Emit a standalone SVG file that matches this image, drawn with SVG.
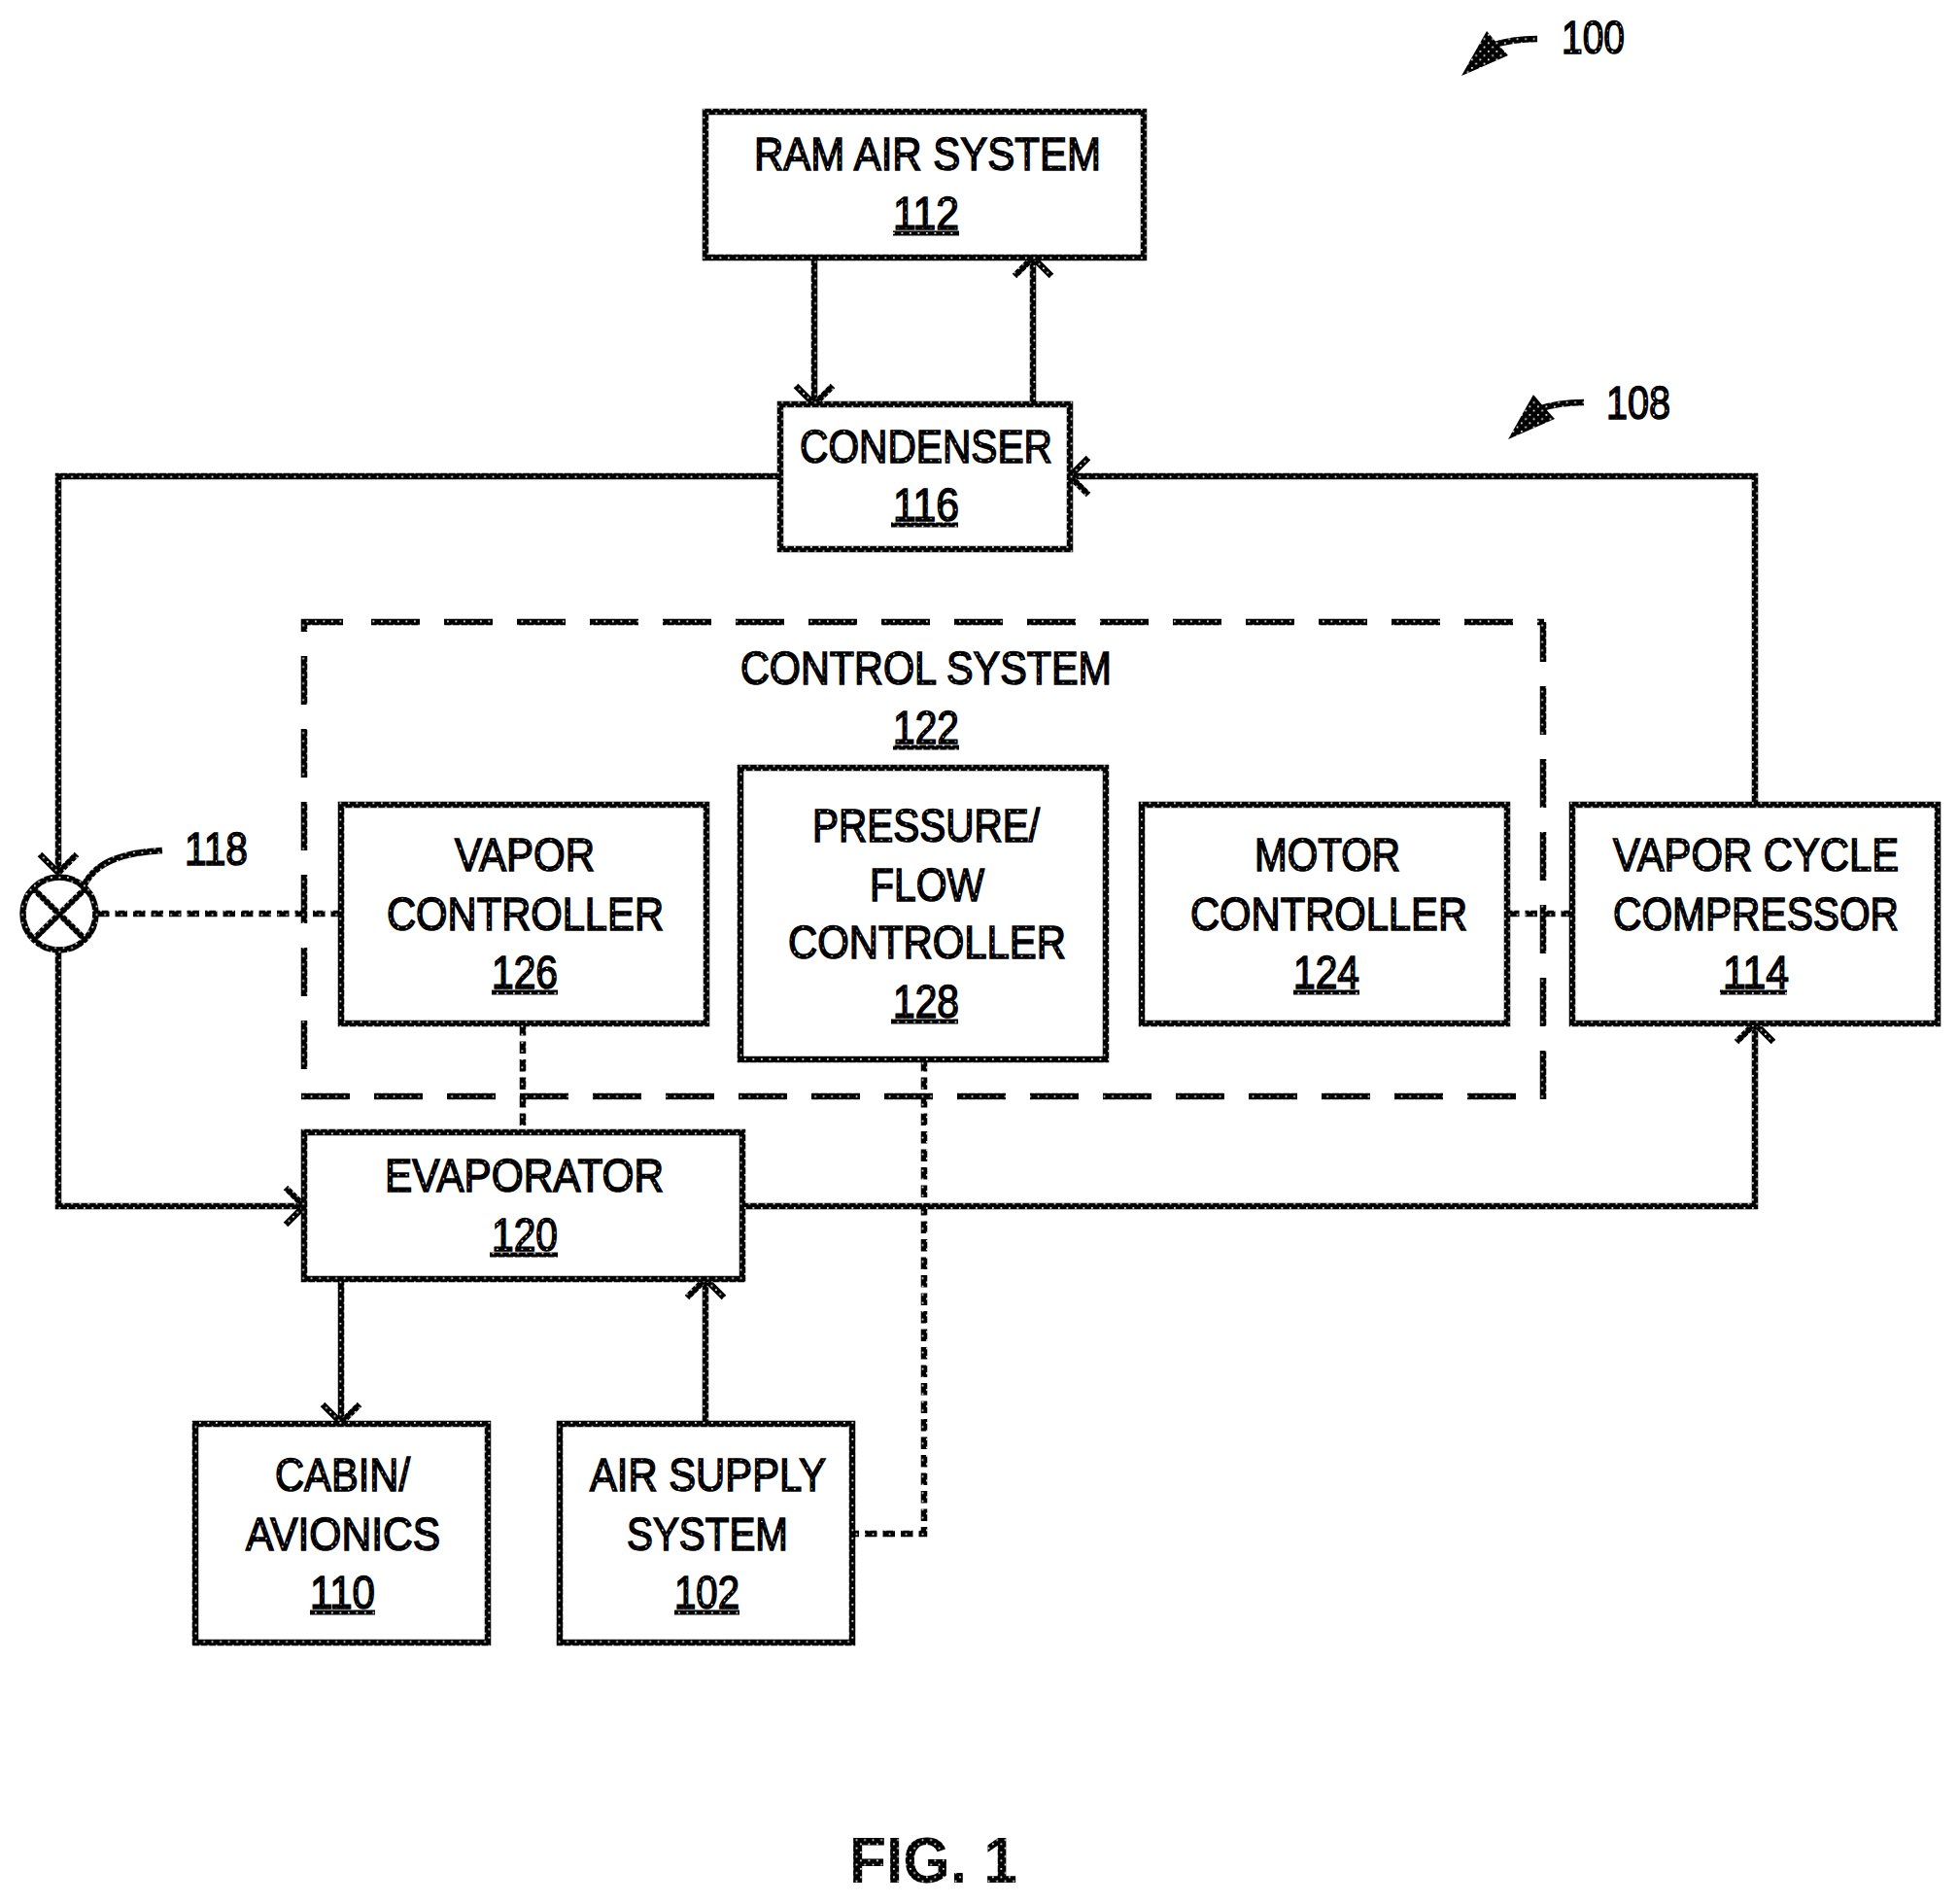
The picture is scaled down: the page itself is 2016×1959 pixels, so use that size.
<svg xmlns="http://www.w3.org/2000/svg" width="2016" height="1959" viewBox="0 0 2016 1959">
<style>
.b{fill:#fff;stroke:url(#ht);stroke-width:6.5}
.c{fill:none;stroke:url(#ht);stroke-width:6.5}
.d{stroke-dasharray:12.5 6}
.e{stroke-dasharray:50 25}
.t{font-family:"Liberation Sans",Arial,sans-serif;font-size:48px;fill:url(#ht);stroke:#000;stroke-width:1.6;text-anchor:start}
.u{stroke:url(#ht);stroke-width:5;fill:none}
</style>
<defs>
<pattern id="ht" patternUnits="userSpaceOnUse" width="8.5" height="8.5">
<rect width="8.5" height="8.5" fill="#000"/>
<rect x="1" y="1" width="1.7" height="1.7" fill="#fff"/>
<rect x="5.25" y="5.25" width="1.7" height="1.7" fill="#fff"/>
</pattern>
<marker id="a" markerUnits="userSpaceOnUse" markerWidth="50" markerHeight="50" refX="30" refY="25" orient="auto">
<path d="M11 6L30 25L11 44" fill="none" stroke="url(#ht)" stroke-width="6.5"/>
</marker>
</defs>
<rect width="2016" height="1959" fill="#fff"/>
<g id="connectors">
<path class="c" d="M838 265V416" marker-end="url(#a)"/>
<path class="c" d="M1063 416V265" marker-end="url(#a)"/>
<path class="c" d="M1806 828V490H1101" marker-end="url(#a)"/>
<path class="c" d="M803 490H60V898" marker-end="url(#a)"/>
<path class="c" d="M60 980V1241H313" marker-end="url(#a)"/>
<path class="c" d="M764 1241H1806V1053" marker-end="url(#a)"/>
<path class="c" d="M351 1316V1464" marker-end="url(#a)"/>
<path class="c" d="M726 1464V1316" marker-end="url(#a)"/>
<path class="c d" d="M100 940H352"/>
<path class="c d" d="M1551 940H1618"/>
<path class="c d" d="M538 1053V1165"/>
<path class="c d" d="M951 1090V1578H877"/>
<path class="c e" d="M313 1100V640H353"/>
<path class="c e" d="M382 640H1589"/>
<path class="c e" d="M1588 1131V640"/>
<path class="c e" d="M310 1128H1560"/>
<path class="c" d="M87 910C100 885 130 877 167 875"/>
<path class="c" d="M1582 40C1565 40 1550 42 1535 47"/>
<path d="M1504 78L1530 32L1541 45L1552 57Z" fill="url(#ht)"/>
<path class="c" d="M1630 414C1613 414 1598 416 1583 421"/>
<path d="M1552 452L1578 406L1589 419L1600 431Z" fill="url(#ht)"/>
</g>
<g id="node-100"><text class="t" x="1607" y="55" textLength="65" lengthAdjust="spacingAndGlyphs">100</text></g>
<g id="node-108"><text class="t" x="1653" y="431" textLength="66" lengthAdjust="spacingAndGlyphs">108</text></g>
<g id="node-112"><rect class="b" x="726" y="115" width="451" height="150"/>
<text class="t" x="776" y="175" textLength="357" lengthAdjust="spacingAndGlyphs">RAM AIR SYSTEM</text>
<text class="t" x="919" y="236" textLength="68" lengthAdjust="spacingAndGlyphs">112</text><path class="u" d="M919 240H987"/></g>
<g id="node-116"><rect class="b" x="803" y="416" width="298" height="149"/>
<text class="t" x="823" y="476" textLength="260" lengthAdjust="spacingAndGlyphs">CONDENSER</text>
<text class="t" x="919" y="536" textLength="68" lengthAdjust="spacingAndGlyphs">116</text><path class="u" d="M917 540H986"/></g>
<g id="node-122"><text class="t" x="762" y="704" textLength="382" lengthAdjust="spacingAndGlyphs">CONTROL SYSTEM</text>
<text class="t" x="919" y="765" textLength="68" lengthAdjust="spacingAndGlyphs">122</text><path class="u" d="M919 769H987"/></g>
<g id="node-118"><circle class="b" cx="61" cy="940" r="37.5"/><path class="c" d="M33 913L89 968M33 968L89 913"/>
<text class="t" x="190" y="890" textLength="65" lengthAdjust="spacingAndGlyphs">118</text></g>
<g id="node-126"><rect class="b" x="351" y="828" width="376" height="225"/>
<text class="t" x="468" y="896" textLength="144" lengthAdjust="spacingAndGlyphs">VAPOR</text>
<text class="t" x="398" y="957" textLength="285" lengthAdjust="spacingAndGlyphs">CONTROLLER</text>
<text class="t" x="506" y="1017" textLength="68" lengthAdjust="spacingAndGlyphs">126</text><path class="u" d="M506 1021H574"/></g>
<g id="node-128"><rect class="b" x="762" y="790" width="376" height="300"/>
<text class="t" x="836" y="866" textLength="234" lengthAdjust="spacingAndGlyphs">PRESSURE/</text>
<text class="t" x="895" y="927" textLength="118" lengthAdjust="spacingAndGlyphs">FLOW</text>
<text class="t" x="811" y="986" textLength="286" lengthAdjust="spacingAndGlyphs">CONTROLLER</text>
<text class="t" x="919" y="1047" textLength="68" lengthAdjust="spacingAndGlyphs">128</text><path class="u" d="M917 1051H986"/></g>
<g id="node-124"><rect class="b" x="1175" y="828" width="376" height="225"/>
<text class="t" x="1291" y="896" textLength="150" lengthAdjust="spacingAndGlyphs">MOTOR</text>
<text class="t" x="1225" y="957" textLength="285" lengthAdjust="spacingAndGlyphs">CONTROLLER</text>
<text class="t" x="1331" y="1017" textLength="68" lengthAdjust="spacingAndGlyphs">124</text><path class="u" d="M1331 1021H1399"/></g>
<g id="node-114"><rect class="b" x="1618" y="828" width="376" height="225"/>
<text class="t" x="1660" y="896" textLength="294" lengthAdjust="spacingAndGlyphs">VAPOR CYCLE</text>
<text class="t" x="1660" y="957" textLength="294" lengthAdjust="spacingAndGlyphs">COMPRESSOR</text>
<text class="t" x="1773" y="1017" textLength="68" lengthAdjust="spacingAndGlyphs">114</text><path class="u" d="M1770 1021H1839"/></g>
<g id="node-120"><rect class="b" x="313" y="1165" width="451" height="151"/>
<text class="t" x="396" y="1226" textLength="287" lengthAdjust="spacingAndGlyphs">EVAPORATOR</text>
<text class="t" x="506" y="1287" textLength="68" lengthAdjust="spacingAndGlyphs">120</text><path class="u" d="M504 1291H574"/></g>
<g id="node-110"><rect class="b" x="201" y="1465" width="301" height="225"/>
<text class="t" x="283" y="1534" textLength="139" lengthAdjust="spacingAndGlyphs">CABIN/</text>
<text class="t" x="253" y="1595" textLength="200" lengthAdjust="spacingAndGlyphs">AVIONICS</text>
<text class="t" x="319" y="1655" textLength="67" lengthAdjust="spacingAndGlyphs">110</text><path class="u" d="M319 1659H386"/></g>
<g id="node-102"><rect class="b" x="576" y="1465" width="301" height="225"/>
<text class="t" x="607" y="1534" textLength="243" lengthAdjust="spacingAndGlyphs">AIR SUPPLY</text>
<text class="t" x="645" y="1595" textLength="166" lengthAdjust="spacingAndGlyphs">SYSTEM</text>
<text class="t" x="694" y="1655" textLength="67" lengthAdjust="spacingAndGlyphs">102</text><path class="u" d="M694 1659H761"/></g>
<g id="fig"><text x="874" y="1937" textLength="173" lengthAdjust="spacingAndGlyphs" style="font-family:'Liberation Sans',Arial,sans-serif;font-size:66px;font-weight:bold;fill:url(#ht)">FIG. 1</text></g>
</svg>
